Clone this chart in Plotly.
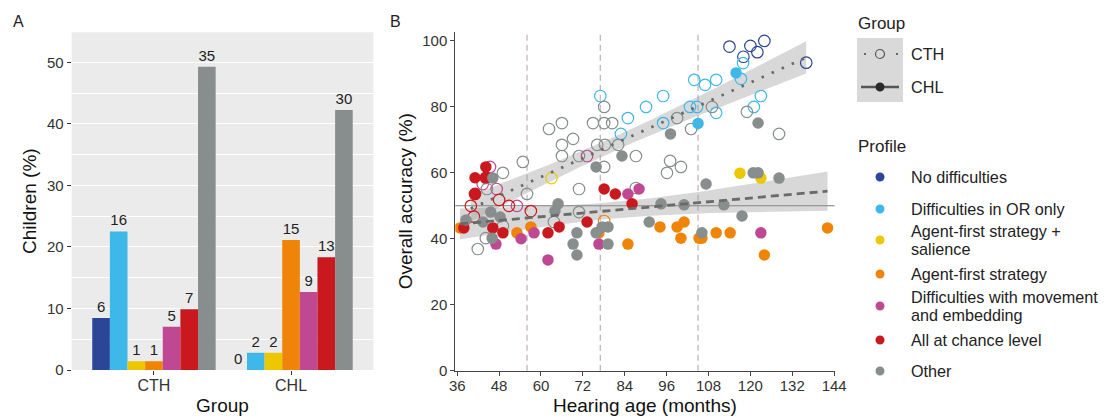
import numpy as np
import plotly.graph_objects as go

# The page body adds an 8px margin, so the figure is drawn 8px right/down.
OFF = 8
W, H = 1108 - OFF, 416 - OFF
FONT = "Liberation Sans, Arial, sans-serif"

# ---------------- Panel A data ----------------
groups = ["CTH", "CHL"]
profiles = ["No difficulties", "Difficulties in OR only", "Agent-first strategy + salience",
            "Agent-first strategy", "Difficulties with movement and embedding",
            "All at chance level", "Other"]
profile_colors = ["#2B4597", "#3DB8E9", "#EDC700", "#EF8409", "#BE4892", "#C9181E", "#888D8D"]
cth_counts = [6, 16, 1, 1, 5, 7, 35]
chl_counts = [0, 2, 2, 15, 9, 13, 30]

# ---------------- Panel B data (hearing age in months, overall accuracy %) ----------------
# CTH (open circles)
cth_nodiff_age = [114, 120, 124, 118, 122, 136]
cth_nodiff_acc = [98.3, 98.5, 100, 95.2, 96.6, 93.4]
cth_or_age = [77, 84.9, 90.1, 95, 82.9, 95, 103.9, 102.7, 104.7, 107, 110.2, 110.2, 117.9, 117.3, 123, 121]
cth_or_acc = [83.3, 76.6, 80, 83.3, 71.8, 75.1, 88.2, 80, 80, 86.7, 88.2, 78.2, 93.3, 88.5, 83.3, 80]
cth_sal_age = [63]
cth_sal_acc = [58.4]
cth_agent_age = [78.1]
cth_agent_acc = [45.4]
cth_move_age = [45.4, 47.3, 43.3, 53.1, 73.2]
cth_move_acc = [61.8, 55.1, 56.6, 50, 65.1]
cth_chance_age = [39.9, 40.8, 48, 50.8, 57.1, 44.2, 41.1]
cth_chance_acc = [50, 46.7, 51.8, 50, 48.4, 58.5, 53.6]
cth_other_age = [54.8, 49.1, 44.5, 62.3, 66, 66, 66, 69.2, 70.9, 70.9, 74.9, 78.1, 78.1, 80.4,
                 76.1, 78.3, 78.1, 82.1, 56, 70.9, 87.2, 99, 103, 97, 96.1, 100.1, 109, 119,
                 128.2, 87.2, 41.9, 44.2, 49.1, 63.7]
cth_other_acc = [63.3, 60, 55.1, 73.3, 75.1, 68.5, 65.1, 70.3, 55.1, 65.1, 75.1, 80, 75.1, 75.1,
                 68.5, 68.5, 61.8, 68.5, 53.6, 48.1, 65.1, 76.6, 73.3, 63.6, 60, 61.8, 80, 78.5,
                 71.8, 55.4, 36.9, 40.2, 43.9, 45.1]

# CHL (filled circles)
chl_nodiff_age = []
chl_nodiff_acc = []
chl_or_age = [105, 115.9]
chl_or_acc = [75, 90.3]
chl_sal_age = [117, 123]
chl_sal_acc = [59.9, 58.4]
chl_agent_age = [36.8, 53.1, 57.1, 76.6, 84.9, 94.1, 99, 101, 100.1, 105.3, 106.1, 110.2, 114.2, 124, 142.1]
chl_agent_acc = [43.3, 41.8, 43.6, 41.8, 38.4, 43.6, 43.6, 45.1, 40.2, 40.2, 40.2, 41.8, 41.8, 35.1, 43.3]
chl_move_age = [47.1, 54.3, 58, 62, 76.6, 84.9, 88.1, 123]
chl_move_acc = [38.4, 40, 41.8, 33.6, 38.4, 53.6, 55.1, 41.8]
chl_chance_age = [44.2, 41.1, 44.2, 41.1, 37.9, 46.2, 49.1, 62, 65.2, 73.2, 78.1, 81.3, 86.1]
chl_chance_acc = [61.8, 58.5, 58.5, 53.6, 43.3, 43.3, 41.8, 41.8, 43.6, 45.1, 55.1, 53.6, 50.6]
chl_other_age = [46.2, 45.6, 43.4, 48.3, 46, 64.9, 64, 70.3, 69.2, 70.3, 75.8, 77.5, 79.2, 79.2,
                 75.8, 83.2, 94.4, 101, 91, 107.3, 106.1, 97.1, 122.2, 120.8, 122.2, 128.2,
                 112.4, 117.6, 38.5]
chl_other_acc = [58.4, 48.1, 45.1, 46.6, 40.2, 50.6, 48.4, 41.8, 38.4, 35.1, 41.8, 43.6, 43.6, 38.4,
                 61.8, 65.1, 50.6, 50.3, 45.1, 56.6, 41.8, 71.8, 75.1, 60, 60, 58.4,
                 50.3, 46.9, 45.7]

milestones = [56, 77, 105]
chance_level = 50

cth_sets = [(cth_nodiff_age, cth_nodiff_acc), (cth_or_age, cth_or_acc), (cth_sal_age, cth_sal_acc),
            (cth_agent_age, cth_agent_acc), (cth_move_age, cth_move_acc),
            (cth_chance_age, cth_chance_acc), (cth_other_age, cth_other_acc)]
chl_sets = [(chl_nodiff_age, chl_nodiff_acc), (chl_or_age, chl_or_acc), (chl_sal_age, chl_sal_acc),
            (chl_agent_age, chl_agent_acc), (chl_move_age, chl_move_acc),
            (chl_chance_age, chl_chance_acc), (chl_other_age, chl_other_acc)]


def px(x):
    return (x - OFF) / W


def py(y):
    return 1 - (y - OFF) / H


fig = go.Figure()

# ---------------- Panel A: bars ----------------
for i, prof in enumerate(profiles):
    vals = [cth_counts[i], chl_counts[i]]
    pct = [vals[0] / sum(cth_counts) * 100, vals[1] / sum(chl_counts) * 100]
    fig.add_trace(go.Bar(
        x=groups, y=pct, name=prof, marker=dict(color=profile_colors[i], line=dict(width=0)),
        text=[str(v) for v in vals], textposition="outside", cliponaxis=False,
        textfont=dict(size=15, color="#222", family=FONT),
        xaxis="x", yaxis="y", showlegend=False))


# ---------------- Panel B: regression ribbons & lines ----------------
def lm_fit(x, y, n_out=80):
    x = np.asarray(x, float)
    y = np.asarray(y, float)
    n = len(x)
    b1, b0 = np.polyfit(x, y, 1)
    xs = np.linspace(x.min(), x.max(), n_out)
    yh = b0 + b1 * xs
    res = y - (b0 + b1 * x)
    s = np.sqrt(np.sum(res ** 2) / (n - 2))
    se = s * np.sqrt(1 / n + (xs - x.mean()) ** 2 / np.sum((x - x.mean()) ** 2))
    t = 1.995
    return xs, yh, yh - t * se, yh + t * se


cth_all_age = sum([list(a) for a, _ in cth_sets], [])
cth_all_acc = sum([list(b) for _, b in cth_sets], [])
chl_all_age = sum([list(a) for a, _ in chl_sets], [])
chl_all_acc = sum([list(b) for _, b in chl_sets], [])

fits = []
for ages, accs in [(cth_all_age, cth_all_acc), (chl_all_age, chl_all_acc)]:
    xs, yh, lo, hi = lm_fit(ages, accs)
    fits.append((xs, yh))
    fig.add_trace(go.Scatter(
        x=np.concatenate([xs, xs[::-1]]), y=np.concatenate([hi, lo[::-1]]),
        fill="toself", fillcolor="rgba(153,153,153,0.38)", line=dict(width=0),
        mode="lines", hoverinfo="skip", xaxis="x2", yaxis="y2", showlegend=False))

# points: CTH open, CHL filled
for i, (a, b) in enumerate(cth_sets):
    if len(a):
        fig.add_trace(go.Scatter(
            x=a, y=b, mode="markers", xaxis="x2", yaxis="y2", showlegend=False,
            marker=dict(symbol="circle-open", size=11.5, color=profile_colors[i],
                        line=dict(width=1.2, color=profile_colors[i]))))
for i, (a, b) in enumerate(chl_sets):
    if len(a):
        fig.add_trace(go.Scatter(
            x=a, y=b, mode="markers", xaxis="x2", yaxis="y2", showlegend=False,
            marker=dict(symbol="circle", size=11.5, color=profile_colors[i], line=dict(width=0))))

# fit lines on top
fig.add_trace(go.Scatter(x=fits[0][0], y=fits[0][1], mode="lines", xaxis="x2", yaxis="y2",
                         showlegend=False, line=dict(color="#6a6a6a", width=2.8, dash="2.5px,8.5px")))
fig.add_trace(go.Scatter(x=fits[1][0], y=fits[1][1], mode="lines", xaxis="x2", yaxis="y2",
                         showlegend=False, line=dict(color="#6a6a6a", width=2.8, dash="8px,5px")))

shapes = []
for m in milestones:
    shapes.append(dict(type="line", xref="x2", yref="y2 domain", x0=m, x1=m, y0=0, y1=1,
                       line=dict(color="#C4B6B6", width=1.3, dash="6px,4px"), layer="below"))
shapes.append(dict(type="line", xref="x2 domain", yref="y2", x0=0, x1=1, y0=chance_level, y1=chance_level,
                   line=dict(color="#7a7a7a", width=1.1), layer="below"))

# ---------------- Custom legend ----------------
LEG = 16.2
annotations = []
annotations.append(dict(x=px(856), y=py(24), xref="paper", yref="paper", text="Group", showarrow=False,
                        xanchor="left", yanchor="middle", font=dict(size=17, color="#222", family=FONT)))
shapes.append(dict(type="rect", xref="paper", yref="paper", x0=px(857), x1=px(903), y0=py(102), y1=py(38),
                   fillcolor="#D9D9D9", line=dict(width=0), layer="above"))
# CTH key
shapes.append(dict(type="line", xref="paper", yref="paper", x0=px(864), x1=px(899), y0=py(54), y1=py(54),
                   line=dict(color="#666", width=2, dash="2px,14px"), layer="above"))
shapes.append(dict(type="circle", xref="paper", yref="paper", x0=px(875.5), x1=px(884.5), y0=py(58.5),
                   y1=py(49.5), fillcolor="#D9D9D9", line=dict(color="#555", width=1.2), layer="above"))
# CHL key
shapes.append(dict(type="line", xref="paper", yref="paper", x0=px(861), x1=px(899), y0=py(87), y1=py(87),
                   line=dict(color="#555", width=2.5), layer="above"))
shapes.append(dict(type="circle", xref="paper", yref="paper", x0=px(875.5), x1=px(884.5), y0=py(91.5),
                   y1=py(82.5), fillcolor="#2a2a2a", line=dict(width=0), layer="above"))
for txt, yy in [("CTH", 54), ("CHL", 87)]:
    annotations.append(dict(x=px(909), y=py(yy), xref="paper", yref="paper", text=txt, showarrow=False,
                            xanchor="left", yanchor="middle", font=dict(size=LEG, color="#222", family=FONT)))

annotations.append(dict(x=px(856), y=py(146), xref="paper", yref="paper", text="Profile", showarrow=False,
                        xanchor="left", yanchor="middle", font=dict(size=17, color="#222", family=FONT)))
legend_rows = [
    (["No difficulties"], 177),
    (["Difficulties in OR only"], 209),
    (["Agent-first strategy +", "salience"], 240),
    (["Agent-first strategy"], 274),
    (["Difficulties with movement", "and embedding"], 306),
    (["All at chance level"], 340),
    (["Other"], 371),
]
for i, (lines, yc) in enumerate(legend_rows):
    shapes.append(dict(type="circle", xref="paper", yref="paper", x0=px(875.5), x1=px(884.5),
                       y0=py(yc + 4.5), y1=py(yc - 4.5), fillcolor=profile_colors[i],
                       line=dict(width=0), layer="above"))
    nl = len(lines)
    for j, t in enumerate(lines):
        ty = yc + (j - (nl - 1) / 2) * 17.5
        annotations.append(dict(x=px(909), y=py(ty), xref="paper", yref="paper", text=t, showarrow=False,
                                xanchor="left", yanchor="middle",
                                font=dict(size=LEG, color="#222", family=FONT)))

# panel letters
annotations.append(dict(x=px(18), y=py(22), xref="paper", yref="paper", text="A", showarrow=False,
                        xanchor="center", yanchor="middle", font=dict(size=16, color="#222", family=FONT)))
annotations.append(dict(x=px(395), y=py(21), xref="paper", yref="paper", text="B", showarrow=False,
                        xanchor="center", yanchor="middle", font=dict(size=16, color="#222", family=FONT)))

# panel A background
shapes.append(dict(type="rect", xref="x domain", yref="y domain", x0=0, x1=1, y0=0, y1=1,
                   fillcolor="#EBEBEB", line=dict(width=0), layer="below"))

tickfont = dict(size=15, color="#333", family=FONT)
titlefont = dict(size=19, color="#111", family=FONT)

fig.update_layout(
    width=W, height=H, margin=dict(l=0, r=0, t=0, b=0),
    paper_bgcolor="white", plot_bgcolor="rgba(0,0,0,0)",
    font=dict(family=FONT, color="#222"),
    barmode="group", bargap=0.1, bargroupgap=0,
    shapes=shapes, annotations=annotations, showlegend=False,
    xaxis=dict(domain=[px(71.7), px(373.3)], anchor="y", range=[-0.6, 1.6], showgrid=False,
               ticks="outside", ticklen=4, tickcolor="#333", tickfont=dict(size=16, color="#333", family=FONT),
               ticklabelstandoff=-3,
               showline=False, zeroline=False, automargin=False,
               title=dict(text="Group", font=titlefont, standoff=5)),
    yaxis=dict(domain=[py(370), py(32.3)], anchor="x", range=[0, 54.9], tickvals=[0, 10, 20, 30, 40, 50],
               showgrid=True, gridcolor="white", gridwidth=1.2,
               minor=dict(tickvals=[5, 15, 25, 35, 45], showgrid=True, gridcolor="white", gridwidth=0.6, ticks=""),
               ticks="outside", ticklen=4, tickcolor="#333", tickfont=tickfont, zeroline=False,
               showline=False, automargin=False,
               title=dict(text="Children (%)", font=titlefont, standoff=5)),
    xaxis2=dict(domain=[px(455.3), px(834.5)], anchor="y2", range=[35.45, 144.1],
                tickvals=[36, 48, 60, 72, 84, 96, 108, 120, 132, 144], showgrid=False, zeroline=False,
                showline=True, linecolor="#444", linewidth=1, ticks="outside", ticklen=4, tickcolor="#444",
                tickfont=tickfont, ticklabelstandoff=-3, automargin=False,
                title=dict(text="Hearing age (months)", font=titlefont, standoff=6)),
    yaxis2=dict(domain=[py(370.7), py(31.7)], anchor="x2", range=[0, 102.8],
                tickvals=[0, 20, 40, 60, 80, 100], showgrid=False, zeroline=False,
                showline=True, linecolor="#444", linewidth=1, ticks="outside", ticklen=4, tickcolor="#444",
                tickfont=tickfont, automargin=False,
                title=dict(text="Overall accuracy (%)", font=titlefont, standoff=4)),
)

fig.write_html("out.html")
